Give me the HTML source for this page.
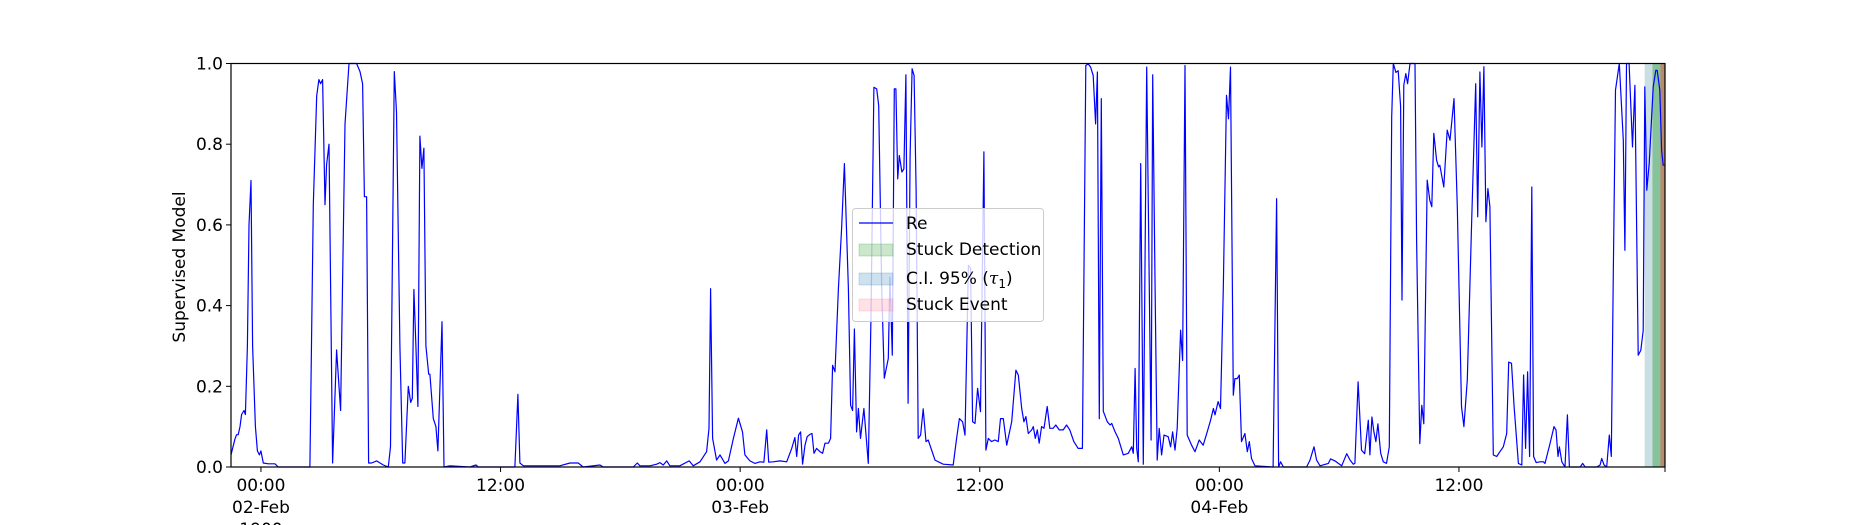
<!DOCTYPE html>
<html><head><meta charset="utf-8"><style>
html,body{margin:0;padding:0;background:#fff;}
svg{display:block;font-family:"DejaVu Sans","Liberation Sans",sans-serif;}
</style></head><body>
<svg id="chart" width="1850" height="525" viewBox="0 0 1850 525" xmlns="http://www.w3.org/2000/svg">
<rect width="1850" height="525" fill="#fff"/>
<g id="shades"></g>
<g id="line"></g>
<rect x="231" y="63.5" width="1434" height="403.5" fill="none" stroke="#000" stroke-width="1.2"/>
<g id="yaxis" font-size="17" fill="#000"></g>
<g id="xaxis" font-size="17" fill="#000"></g>
<text transform="translate(185,267) rotate(-90)" text-anchor="middle" font-size="17">Supervised Model</text>
<g>
<rect x="852.5" y="208.5" width="191" height="113" rx="3" fill="#fff" fill-opacity="0.8" stroke="#ccc"/>
<line x1="859" y1="223" x2="893" y2="223" stroke="#0000ff" stroke-width="1.3"/>
<text x="906" y="229" font-size="17">Re</text>
<rect x="859" y="244" width="34" height="12" fill="#2ca02c" fill-opacity="0.25" stroke="#2ca02c" stroke-opacity="0.25"/>
<text x="906" y="255" font-size="17">Stuck Detection</text>
<rect x="859" y="273" width="34" height="12" fill="#1f77b4" fill-opacity="0.22" stroke="#1f77b4" stroke-opacity="0.22"/>
<text x="906" y="284" font-size="17">C.I. 95% (<tspan font-style="italic" font-family="DejaVu Serif, serif">τ</tspan><tspan font-size="12" dy="4">1</tspan><tspan dy="-4">)</tspan></text>
<rect x="859" y="299" width="34" height="12" fill="#ff6b81" fill-opacity="0.2" stroke="#ff6b81" stroke-opacity="0.2"/>
<text x="906" y="310" font-size="17">Stuck Event</text>
</g>
</svg>
<script>
const hours=[-1.5,-1.3,-1.22,-1.14,-1.05,-0.97,-0.85,-0.78,-0.68,-0.6,-0.5,-0.42,-0.28,-0.18,-0.08,0,0.12,0.37,0.7,0.87,2.45,2.62,2.79,2.9,2.99,3.09,3.21,3.29,3.41,3.59,3.79,3.99,4.21,4.41,4.79,4.96,5.09,5.18,5.29,5.39,5.54,5.79,6.13,6.38,6.49,6.68,6.79,6.96,7.1,7.21,7.38,7.5,7.58,7.66,7.76,7.86,7.96,8.06,8.16,8.26,8.4,8.46,8.63,8.76,8.86,9.07,9.17,9.47,10.47,10.77,10.88,12.72,12.87,12.97,13.14,14.97,15.48,15.89,16.14,16.98,17.14,18.65,18.85,18.98,19.48,
19.82,19.98,20.15,20.32,20.48,20.98,21.45,21.65,21.99,22.32,22.44,22.52,22.62,22.82,22.99,23.24,23.41,23.66,23.91,24.12,24.24,24.49,24.74,24.99,25.19,25.33,25.43,25.66,25.99,26.33,26.58,26.74,26.83,26.93,27.03,27.13,27.25,27.36,27.5,27.6,27.7,27.83,28,28.13,28.25,28.42,28.53,28.63,28.75,28.92,29.08,29.22,29.42,29.53,29.63,29.72,29.83,29.92,30.03,30.2,30.42,30.55,30.7,30.84,30.94,31.09,31.22,31.42,31.5,31.62,31.72,31.8,31.89,31.97,32.1,32.2,32.3,32.41,32.51,32.61,32.71,32.81,32.92,33.04,33.17,33.31,33.42,33.76,34.17,34.67,34.84,34.98,35.14,35.26,35.43,35.54,35.64,35.76,35.89,36.04,36.21,36.31,36.43,36.59,36.76,36.93,37.04,
37.18,37.35,37.6,37.81,37.93,38.1,38.21,38.31,38.43,38.6,38.68,38.78,38.88,38.98,39.1,39.22,39.38,39.51,39.68,39.81,39.98,40.18,40.35,40.51,40.71,40.93,41.14,41.31,41.43,41.55,41.68,41.8,41.89,41.99,42.09,42.19,42.39,42.53,42.61,42.78,42.94,43.19,43.44,43.61,43.69,43.78,43.86,43.94,44.06,44.19,44.36,44.49,44.58,44.66,44.78,44.89,44.99,45.11,45.23,45.44,45.56,45.66,45.78,45.89,46.06,46.16,46.28,46.39,46.61,46.78,46.99,47.19,47.39,47.56,47.7,47.78,47.94,48.06,48.2,48.36,48.46,48.56,48.7,48.78,48.9,49,49.11,49.28,49.4,49.5,49.61,49.78,50.69,50.87,50.97,51.07,51.21,52.37,52.54,52.74,52.87,53.04,53.46,53.57,53.79,53.96,54.13,54.38,54.55,54.71,54.79,54.95,55.12,55.28,55.46,
55.54,55.64,55.74,55.84,55.94,56.08,56.21,56.37,56.51,56.63,56.71,56.84,56.96,57.08,57.15,57.24,57.34,57.43,57.55,57.8,57.88,58.04,58.14,58.24,58.41,58.54,58.64,58.74,58.88,58.98,59.04,59.24,59.41,59.55,59.75,59.92,60.13,60.25,60.42,60.64,60.84,60.94,61.05,61.15,61.25,61.35,61.45,61.55,61.72,61.89,62.05,62.22,62.39,62.49,62.63,62.76,62.98,63.15,63.24,63.34,63.44,63.54,63.65,63.74,63.87,64.06,64.23,64.31,64.56,64.76,64.86,64.96,65.03,65.15,65.31,65.43,65.53,66.07,66.2,66.32,66.9,67.07,67.15,67.27,67.4,67.53,67.63,67.73,67.84,68.03,68.23,68.31,68.39,68.52,68.69,68.81,68.98,69.11,69.23,69.31,69.41,69.53,69.73,69.86,69.93,70.06,70.15,70.23,70.32];
const values=[0.03,0.07,0.08,0.08,0.1,0.13,0.14,0.13,0.3,0.6,0.71,0.3,0.1,0.04,0.03,0.04,0.01,0.008,0.008,0,0,0.65,0.92,0.96,0.95,0.96,0.65,0.75,0.8,0.01,0.29,0.14,0.85,1,1,0.98,0.95,0.67,0.67,0.01,0.01,0.015,0.005,0,0.05,0.98,0.88,0.3,0.01,0.01,0.2,0.16,0.17,0.44,0.3,0.15,0.82,0.74,0.79,0.3,0.23,0.23,0.12,0.1,0.04,0.36,0,0.003,0,0.005,0,0,0.18,0.01,0.003,0.003,0.01,0.01,0,0.005,0,0,0.01,0.003,0.003,
0.007,0.011,0.005,0.015,0.003,0.003,0.015,0.003,0.013,0.038,0.096,0.442,0.071,0.017,0.03,0.009,0.015,0.071,0.121,0.087,0.03,0.015,0.009,0.013,0.012,0.092,0.012,0.013,0.015,0.013,0.046,0.073,0.026,0.079,0.087,0.007,0.054,0.075,0.081,0.083,0.034,0.046,0.038,0.034,0.059,0.059,0.071,0.252,0.236,0.442,0.591,0.752,0.442,0.153,0.14,0.342,0.087,0.145,0.071,0.145,0.009,0.36,0.941,0.937,0.896,0.442,0.22,0.269,0.471,0.277,0.937,0.937,0.714,0.772,0.731,0.739,0.972,0.158,0.772,0.987,0.97,0.69,0.071,0.079,0.144,0.063,0.067,0.017,0.007,0.005,0.071,0.12,0.112,0.079,0.5,0.492,0.112,0.108,0.195,0.137,0.781,0.042,0.071,0.063,0.067,0.063,0.12,
0.12,0.054,0.112,0.24,0.228,0.145,0.112,0.125,0.083,0.092,0.1,0.071,0.092,0.059,0.1,0.096,0.15,0.096,0.096,0.104,0.092,0.092,0.104,0.092,0.063,0.046,0.046,0.995,0.999,0.991,0.97,0.85,0.979,0.12,0.913,0.138,0.112,0.104,0.108,0.087,0.071,0.03,0.034,0.05,0.034,0.244,0.046,0.013,0.752,0.007,0.991,0.442,0.067,0.972,0.442,0.017,0.096,0.03,0.079,0.075,0.05,0.087,0.042,0.096,0.339,0.264,0.995,0.079,0.054,0.038,0.067,0.054,0.087,0.116,0.145,0.129,0.162,0.145,0.442,0.921,0.863,0.991,0.178,0.219,0.219,0.228,0.063,0.083,0.038,0.063,0.021,0.003,0,0.665,0,0.013,0,0,0.017,0.05,0.017,0.003,0.009,0.02,0.015,0.009,0.003,0.033,0.017,0.007,0.009,0.211,0.042,0.033,0.116,
0.03,0.124,0.087,0.063,0.107,0.034,0.013,0.009,0.05,0.868,1,0.978,0.982,0.894,0.414,0.946,0.975,0.95,1,1,0.562,0.058,0.153,0.107,0.711,0.661,0.645,0.827,0.76,0.744,0.748,0.694,0.835,0.81,0.913,0.645,0.15,0.1,0.216,0.612,0.95,0.62,0.979,0.793,0.992,0.608,0.69,0.645,0.03,0.026,0.038,0.05,0.083,0.26,0.257,0.15,0.009,0.005,0.228,0.046,0.236,0.026,0.694,0.026,0.011,0.013,0.013,0.009,0.058,0.1,0.092,0.026,0.05,0.013,0,0.129,0,0,0.009,0,0,0.005,0.021,0.005,0,0.079,0.026,0.48,0.934,1,0.81,0.537,1,1,0.793,0.946,0.277,0.289,0.338,0.942,0.686,0.752,0.942,0.983,0.983,0.934,0.785,0.748,0.748];
const yTicks=[0,0.2,0.4,0.6,0.8,1.0];
const yTickLabels=["0.0","0.2","0.4","0.6","0.8","1.0"];
const xTicks=[0,12,24,36,48,60];
const xTickLabels=[["00:00","02-Feb","1900"],["12:00"],["00:00","03-Feb"],["12:00"],["00:00","04-Feb"],["12:00"]];
const ciSpan=[69.30,69.69];
const detectSpan=[69.69,70.32];
const eventSpan=[70.09,70.32];

const X0=231,X1=1665,Y0=467,Y1=63.5,HMIN=-1.5,HMAX=70.32;
const NS="http://www.w3.org/2000/svg";
function xs(h){return X0+(h-HMIN)/(HMAX-HMIN)*(X1-X0);}
function ys(v){return Y0-v*(Y0-Y1);}
function mk(tag,attrs,parent){const e=document.createElementNS(NS,tag);for(const k in attrs)e.setAttribute(k,attrs[k]);parent.appendChild(e);return e;}

const sh=document.getElementById('shades');
let r=mk('rect',{x:xs(ciSpan[0]),y:Y1,width:xs(ciSpan[1])-xs(ciSpan[0]),height:Y0-Y1,fill:'#c9dfe4'},sh);


r=mk('rect',{x:xs(detectSpan[0]),y:Y1,width:xs(detectSpan[1])-xs(detectSpan[0]),height:Y0-Y1,fill:'#86c29a'},sh);


r=mk('rect',{x:xs(eventSpan[0]),y:Y1,width:xs(eventSpan[1])-xs(eventSpan[0]),height:Y0-Y1,fill:'#b88a6e'},sh);



let d='';
for(let i=0;i<hours.length;i++){d+=(i?'L':'M')+xs(hours[i]).toFixed(1)+','+ys(values[i]).toFixed(1);}
const p=mk('path',{d:d,fill:'none',stroke:'#0000ff','stroke-width':1.2,'stroke-linejoin':'round'},document.getElementById('line'));



const ya=document.getElementById('yaxis');
yTicks.forEach((v,i)=>{
  const t=mk('line',{x1:X0-5,x2:X0,y1:ys(v),y2:ys(v),stroke:'#000','stroke-width':1},ya);
  
  
  const l=mk('text',{x:X0-8,y:ys(v)+6,'text-anchor':'end'},ya);
  l.textContent=yTickLabels[i];
  
  
});
const xa=document.getElementById('xaxis');
xTicks.forEach((h,i)=>{
  const t=mk('line',{x1:xs(h),x2:xs(h),y1:Y0,y2:Y0+5,stroke:'#000','stroke-width':1},xa);
  
  
  xTickLabels[i].forEach((s,j)=>{
    const l=mk('text',{x:xs(h),y:Y0+24+j*22,'text-anchor':'middle'},xa);
    l.textContent=s;
    
    
  });
});
const et=mk('line',{x1:X1,x2:X1,y1:Y0,y2:Y0+5,stroke:'#000','stroke-width':1},xa);


</script>
</body></html>
